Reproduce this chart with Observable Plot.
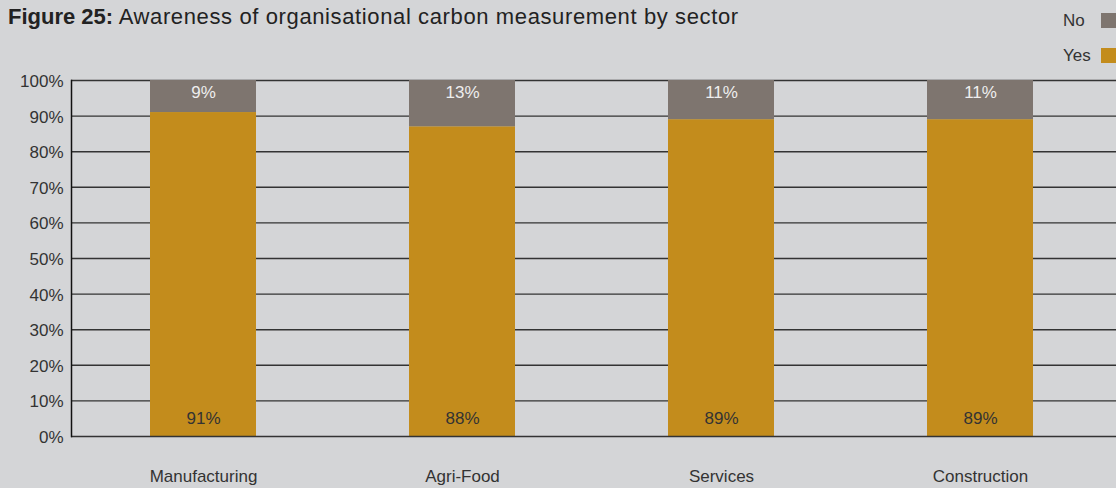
<!DOCTYPE html>
<html><head><meta charset="utf-8">
<script src="https://cdn.jsdelivr.net/npm/d3@7"></script>
<script src="https://cdn.jsdelivr.net/npm/@observablehq/plot@0.6"></script>
<style>
html,body{margin:0;padding:0;background:#d4d5d7;}
#wrap{position:relative;width:1116px;height:488px;overflow:hidden;font-family:"Liberation Sans",Arial,sans-serif;}
#title{position:absolute;left:8px;top:4px;font-size:22px;color:#222;white-space:nowrap;letter-spacing:0.62px;}
#title b{font-weight:bold;letter-spacing:0;}
.lg{position:absolute;left:0;width:1116px;height:16px;}
.lg span{position:absolute;left:1063px;top:-2px;font-size:17px;color:#333;}
.lg i{position:absolute;left:1101px;top:0;width:16px;height:15px;}
#chart{position:absolute;left:0;top:0;}
</style></head>
<body><div id="wrap"><div id="title"><b>Figure 25:</b> Awareness of organisational carbon measurement by sector</div><div id="chart"></div></div>
<script>
const sectors = ["Manufacturing", "Agri-Food", "Services", "Construction"];
const yesValues = [91, 87, 89, 89];
const noValues = [9, 13, 11, 11];
const yesLabels = ["91%", "88%", "89%", "89%"];
const noLabels = ["9%", "13%", "11%", "11%"];
const yTicks = [0, 10, 20, 30, 40, 50, 60, 70, 80, 90, 100];
const legendLabels = ["No", "Yes"];
const legendColors = ["#7e756f", "#c38c1c"];
const legendTops = [13, 48];

const rows = sectors.flatMap((s, i) => [
  {sector: s, answer: "Yes", value: yesValues[i], label: yesLabels[i]},
  {sector: s, answer: "No", value: noValues[i], label: noLabels[i]}
]);
const yesRows = rows.filter(d => d.answer === "Yes");
const noRows = rows.filter(d => d.answer === "No");

const plot = Plot.plot({
  width: 1116,
  height: 488,
  marginTop: 80,
  marginBottom: 52,
  marginLeft: 71,
  marginRight: 0,
  style: {background: "transparent", fontFamily: "'Liberation Sans', Arial, sans-serif", fontSize: "17px", color: "#333"},
  x: {domain: sectors, range: [71, 1113], paddingInner: 0.5907, paddingOuter: 0.305, label: null},
  y: {domain: [0, 100], label: null},
  color: {domain: ["Yes", "No"], range: ["#c38c1c", "#7e756f"]},
  marks: [
    Plot.ruleY(yTicks.filter(t => t > 0), {stroke: "#333", strokeWidth: 1.4}),
    Plot.axisY({ticks: yTicks, tickSize: 0, tickPadding: 8, tickFormat: d => d + "%", dy: 1, fontSize: 17, fill: "#333", label: null}),
    Plot.axisX({tickSize: 0, tickPadding: 33, fontSize: 17, fill: "#333", label: null}),
    Plot.barY(rows, Plot.stackY({x: "sector", y: "value", fill: "answer", order: ["Yes", "No"]})),
    Plot.ruleY([0], {stroke: "#333", strokeWidth: 1.5}),
    Plot.frame({anchor: "left", stroke: "#111", strokeWidth: 1.5}),
    Plot.text(yesRows, {x: "sector", y: 0, text: "label", dy: -18, fill: "#333", fontSize: 17}),
    Plot.text(noRows, {x: "sector", y: 100, text: "label", dy: 12, fill: "#eeeeee", fontSize: 17})
  ]
});
document.getElementById("chart").appendChild(plot);

const wrap = document.getElementById("wrap");
legendLabels.forEach((lab, i) => {
  const row = document.createElement("div");
  row.className = "lg";
  row.style.top = legendTops[i] + "px";
  const sp = document.createElement("span");
  sp.textContent = lab;
  const sq = document.createElement("i");
  sq.style.background = legendColors[i];
  row.appendChild(sp); row.appendChild(sq);
  wrap.appendChild(row);
});
</script></body></html>
